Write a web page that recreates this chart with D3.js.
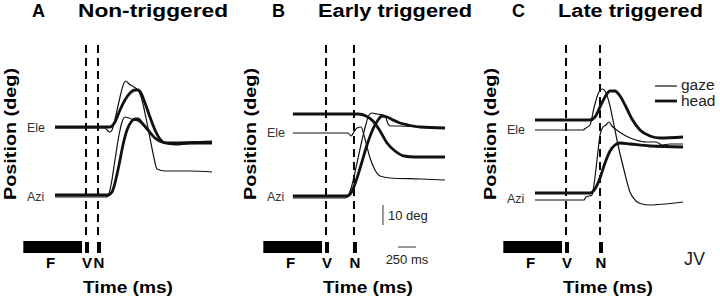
<!DOCTYPE html>
<html>
<head>
<meta charset="utf-8">
<script src="https://cdn.jsdelivr.net/npm/d3@7"></script>
<style>
  body { margin: 0; background: #fff; }
  svg { display: block; font-family: "Liberation Sans", Arial, sans-serif; }
</style>
</head>
<body>
<div id="chart"></div>
<script>
// panel titles
var letters = ['A', 'B', 'C'];
var titles  = ['Non-triggered', 'Early triggered', 'Late triggered'];

// event times in ms (from trace start): fixation bar, V and N onsets
var fixBar = [-440, 375];
var vTimes = [431, 431, 431];
var nTimes = [597, 819, 903];

// traces: [time ms, position deg]
var aEleHead = [[0,61.5],[764,61.5],[833,64],[903,70],[972,75],[1042,78.5],[1111,80],[1153,80],[1194,78.5],[1250,73.5],[1319,66.5],[1389,60],[1458,55.5],[1528,53.5],[1667,53],[1875,53.5],[2181,53.5]];
var aEleGaze = [[0,61],[694,61],[736,59.5],[764,59],[792,60],[847,67.5],[903,76.5],[958,83.5],[986,84.5],[1028,83],[1097,81.5],[1153,80],[1208,75],[1264,66],[1319,56],[1375,46],[1417,40.5],[1528,39.5],[1875,39.5],[2181,39]];
var aAziHead = [[0,27.5],[736,27.5],[792,29],[833,33.5],[889,42.5],[944,52.5],[1000,60],[1056,64],[1111,65.5],[1153,65.5],[1208,63.5],[1292,60],[1389,56],[1486,54],[1597,53.5],[2181,54]];
var aAziGaze = [[0,26.5],[708,26.5],[736,27],[778,32.5],[833,45],[889,57.5],[931,64],[972,66.5],[1028,66],[1097,65],[1153,64.5],[1236,62],[1319,58.5],[1417,55],[1528,53.5],[2181,53.5]];

var bEleHead = [[-30,68],[875,68],[986,67],[1083,64.5],[1181,59.5],[1278,53.5],[1389,49.5],[1514,47],[1667,46.5],[2083,46.5]];
var bEleGaze = [[-30,58.5],[736,58.5],[778,57],[819,59],[861,61],[917,61.5],[972,55.5],[1042,46],[1111,40],[1181,37],[1319,36],[1736,35.5],[2083,35]];
var bAziHead = [[-30,27],[722,27],[778,28.5],[833,33],[917,42.5],[1000,52.5],[1083,60.5],[1153,65],[1208,67],[1278,66.5],[1361,65],[1458,63.5],[1569,62.5],[1736,61.5],[2083,61]];
var bAziGaze = [[-30,26],[694,26],[736,27],[792,32.5],[861,43.5],[931,55],[986,63],[1028,67.5],[1069,68.5],[1139,68],[1222,67.5],[1264,66],[1292,63],[1333,62],[1458,62],[1736,61.5],[2083,61]];

var cEleHead = [[0,65],[764,65],[833,66.5],[903,71.5],[972,76.5],[1042,79.5],[1111,79.5],[1181,77],[1264,71.5],[1347,65.5],[1458,60],[1597,57],[1736,56],[2056,56.5]];
var cEleGaze = [[0,60],[667,60],[708,61],[764,62.5],[819,71],[875,78],[931,80.5],[972,79.5],[1028,74],[1083,65],[1153,52.5],[1236,40],[1319,29],[1403,24.5],[1486,23],[1597,22.5],[1806,23],[2056,24]];
var cAziHead = [[0,28.5],[764,28.5],[833,30.5],[903,36],[972,43.5],[1042,49.5],[1111,52.5],[1181,53.5],[1319,53],[1597,52],[2056,51.5]];
var cAziGaze = [[0,25],[681,25],[708,26.5],[792,27.5],[819,32.5],[861,45],[903,57.5],[944,61.5],[986,62.5],[1028,64],[1069,62],[1153,59.5],[1264,57],[1403,55],[1542,54],[1681,54],[1764,52.5],[1875,53],[2056,53]];

// label levels (deg) for Ele / Azi
var eleLevels = [61, 58.5, 60];
var aziLevels = [26.5, 26.5, 25.5];

// scale bars in panel B
var msBar  = [1430, 1680];
var degBar = [12.5, 22.5];

var width = 720, height = 300;
var panelX = [55, 295, 535];
var titleLen = [150, 154, 145];

var svg = d3.select('#chart')
    .append('svg')
    .attr('width', width)
    .attr('height', height);

var x = d3.scaleLinear().domain([0, 2500]).range([0, 180]);
var y = d3.scaleLinear().domain([0, 100]).range([250, 50]);

var line = d3.line()
    .x(function(d){ return x(d[0]); })
    .y(function(d){ return y(d[1]); })
    .curve(d3.curveMonotoneX);

var traces = [
    [aEleHead, aEleGaze, aAziHead, aAziGaze],
    [bEleHead, bEleGaze, bAziHead, bAziGaze],
    [cEleHead, cEleGaze, cAziHead, cAziGaze]
];

traces.forEach(function(tr, i){
    var ox = panelX[i] - 55;   // panel offset in px
    var g = svg.append('g').attr('transform', 'translate(' + panelX[i] + ',0)');

    // titles
    svg.append('text').attr('x', ox + 32).attr('y', 17)
       .attr('font-size', 18).attr('font-weight', 'bold').text(letters[i]);
    svg.append('text').attr('x', ox + 78).attr('y', 17)
       .attr('font-size', 18).attr('font-weight', 'bold')
       .attr('textLength', titleLen[i]).attr('lengthAdjust', 'spacingAndGlyphs')
       .text(titles[i]);

    svg.append('text')
       .attr('transform', 'translate(' + (ox + 16) + ',134) rotate(-90)')
       .attr('text-anchor', 'middle')
       .attr('font-size', 17).attr('font-weight', 'bold')
       .attr('textLength', 132).attr('lengthAdjust', 'spacingAndGlyphs')
       .text('Position (deg)');

    svg.append('text').attr('x', ox + 128).attr('y', 293)
       .attr('text-anchor', 'middle')
       .attr('font-size', 17).attr('font-weight', 'bold')
       .attr('textLength', 90).attr('lengthAdjust', 'spacingAndGlyphs')
       .text('Time (ms)');

    // Ele / Azi labels
    g.append('text').attr('x', -28).attr('y', y(eleLevels[i]) + 4)
       .attr('font-size', 12.5).attr('fill', '#333').text('Ele');
    g.append('text').attr('x', -28).attr('y', y(aziLevels[i]) + 4)
       .attr('font-size', 12.5).attr('fill', '#333').text('Azi');

    // dashed event lines
    [vTimes[i], nTimes[i]].forEach(function(t){
        g.append('line')
         .attr('x1', x(t)).attr('x2', x(t))
         .attr('y1', 45).attr('y2', 240)
         .attr('stroke', '#000').attr('stroke-width', 2)
         .attr('stroke-dasharray', '8,5');
        g.append('rect')
         .attr('x', x(t) - 1).attr('y', 242)
         .attr('width', 4).attr('height', 11)
         .attr('fill', '#000');
    });

    // fixation bar
    g.append('rect')
     .attr('x', x(fixBar[0])).attr('y', 241)
     .attr('width', x(fixBar[1]) - x(fixBar[0])).attr('height', 12)
     .attr('fill', '#000');

    // event labels
    g.append('text').attr('x', x((fixBar[0] + fixBar[1]) / 2) - 2).attr('y', 268)
       .attr('text-anchor', 'middle').attr('font-size', 15).attr('font-weight', 'bold').text('F');
    g.append('text').attr('x', x(vTimes[i]) + 1).attr('y', 268)
       .attr('text-anchor', 'middle').attr('font-size', 15).attr('font-weight', 'bold').text('V');
    g.append('text').attr('x', x(nTimes[i]) + 1).attr('y', 268)
       .attr('text-anchor', 'middle').attr('font-size', 15).attr('font-weight', 'bold').text('N');

    // traces: head thick, gaze thin
    tr.forEach(function(d, k){
        g.append('path')
         .datum(d)
         .attr('d', line)
         .attr('fill', 'none')
         .attr('stroke', '#111')
         .attr('stroke-width', k % 2 === 0 ? 2.8 : 1.2)
         .attr('stroke-linejoin', 'round');
    });
});

// scale bars (panel B)
var gb = svg.append('g').attr('transform', 'translate(' + panelX[1] + ',0)');
gb.append('line')
  .attr('x1', x(1222)).attr('x2', x(1222))
  .attr('y1', y(degBar[1])).attr('y2', y(degBar[0]))
  .attr('stroke', '#333').attr('stroke-width', 1);
gb.append('text').attr('x', x(1222) + 5).attr('y', 220)
  .attr('font-size', 13).attr('fill', '#222').text('10 deg');
gb.append('line')
  .attr('x1', x(msBar[0])).attr('x2', x(msBar[1]))
  .attr('y1', 247).attr('y2', 247)
  .attr('stroke', '#333').attr('stroke-width', 1);
gb.append('text').attr('x', x((msBar[0] + msBar[1]) / 2)).attr('y', 264)
  .attr('text-anchor', 'middle').attr('font-size', 13).attr('fill', '#222').text('250 ms');

// legend (panel C)
var legend = svg.append('g');
legend.append('line').attr('x1', 655).attr('x2', 677).attr('y1', 86).attr('y2', 86)
      .attr('stroke', '#111').attr('stroke-width', 1.2);
legend.append('text').attr('x', 681).attr('y', 90).attr('font-size', 15.5).attr('fill', '#222').text('gaze');
legend.append('line').attr('x1', 655).attr('x2', 677).attr('y1', 101).attr('y2', 101)
      .attr('stroke', '#111').attr('stroke-width', 2.8);
legend.append('text').attr('x', 681).attr('y', 106).attr('font-size', 15.5).attr('fill', '#222').text('head');

svg.append('text').attr('x', 684).attr('y', 265).attr('font-size', 18).attr('fill', '#222').text('JV');
</script>
</body>
</html>
